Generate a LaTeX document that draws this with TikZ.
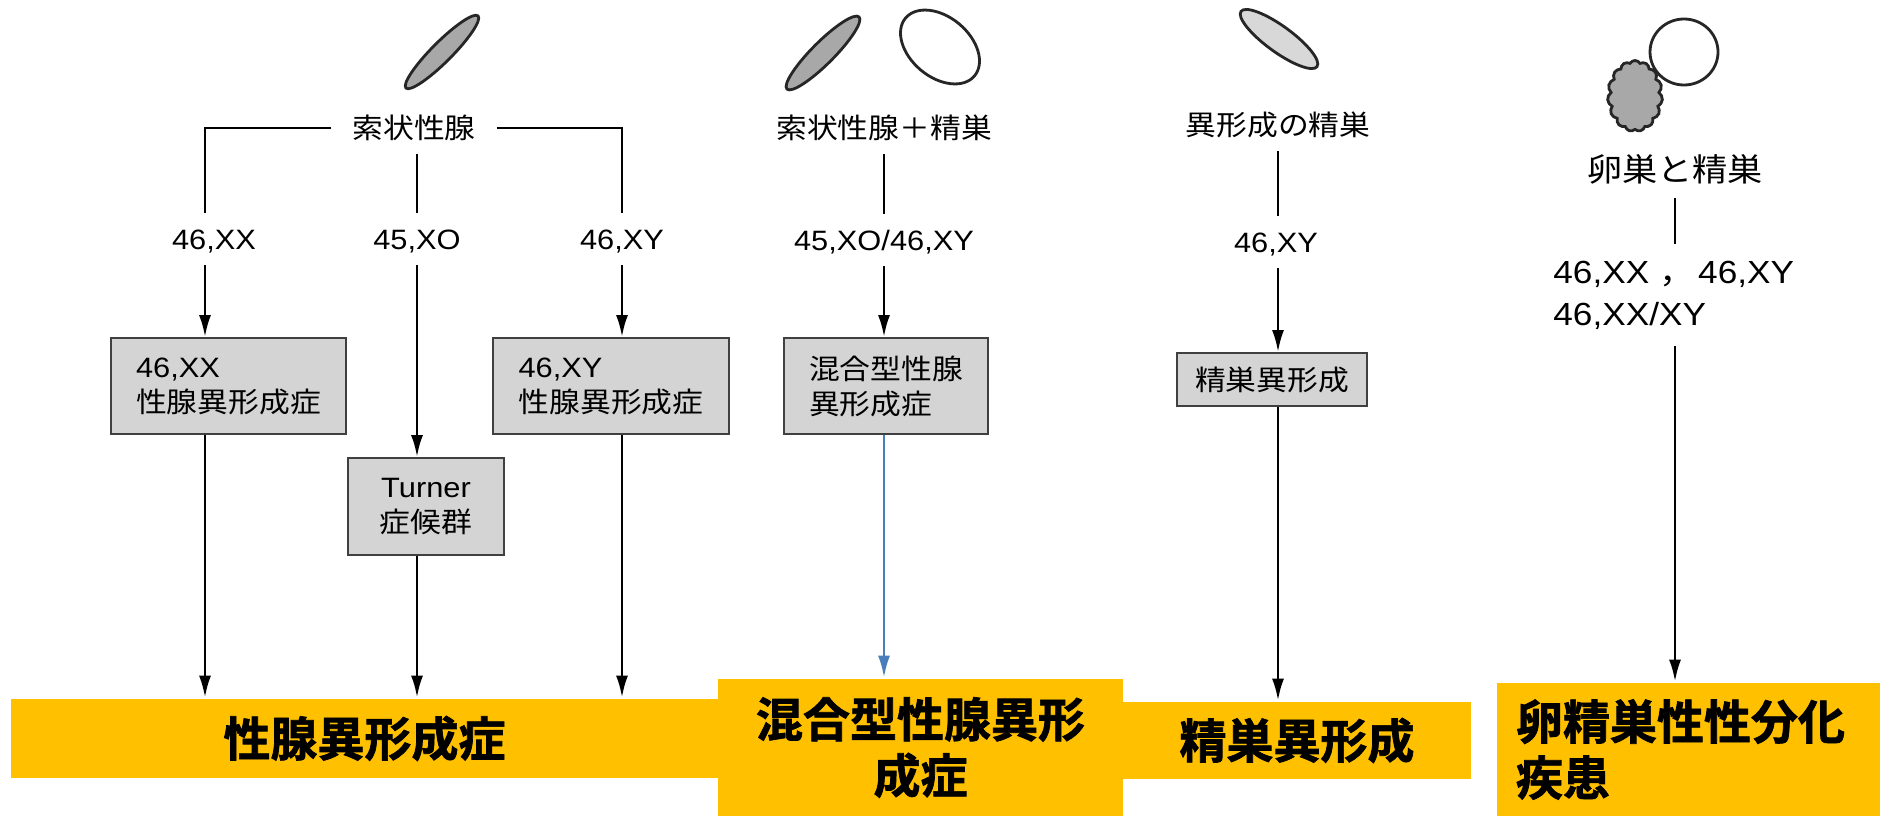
\documentclass[tikz,border=0pt]{standalone}
\usepackage{fontspec}
\setmainfont{Liberation Sans}[FakeStretch=1.1]
\newfontfamily\jp{Noto Sans CJK JP}[FakeStretch=1.1]
\newfontfamily\jpbold{Noto Sans CJK JP Bold}[FakeBold=1.5]
\usetikzlibrary{arrows.meta,shapes.symbols}

\definecolor{bargold}{HTML}{FFC000}
\definecolor{boxgray}{HTML}{D4D4D4}
\definecolor{gonadgray}{HTML}{A8A8A8}
\definecolor{testisgray}{HTML}{D8D8D8}
\definecolor{linkblue}{HTML}{4A7EBB}

\tikzset{
  lab/.style={font=\fontsize{28}{35}\selectfont, inner xsep=20pt, inner ysep=15pt, text height=20pt, text depth=0pt},
  labL/.style={font=\fontsize{32}{42}\selectfont, inner xsep=0pt, inner ysep=15pt},
  gbox/.style={draw=black!75, line width=1.8pt, fill=boxgray, font=\fontsize{28}{35}\selectfont, inner sep=0pt},
  bar/.style={fill=bargold, font=\jpbold\fontsize{47}{56}\selectfont, inner sep=0pt},
  gonad/.style={draw=black!85, line width=2.8pt}
}

\begin{document}
\begin{tikzpicture}[x=1pt, y=-1pt, >={Latex[length=22pt,width=12pt]}, line width=2.7pt]
  \useasboundingbox (0,0) rectangle (1881,816);

  \draw[gonad, fill=gonadgray, rotate around={45:(442,52)}] (442,52) ellipse [x radius=51, y radius=10];
  \draw[gonad, fill=gonadgray, rotate around={45:(823,53)}] (823,53) ellipse [x radius=51, y radius=11];
  \draw[gonad, rotate around={-40:(940,47)}] (940,47) ellipse [x radius=45, y radius=30];
  \draw[gonad, fill=testisgray, rotate around={-36:(1279,39)}] (1279,39) ellipse [x radius=47, y radius=13];
  \draw[gonad] (1684,52) ellipse [x radius=34, y radius=33];
  \node[gonad, cloud, fill=gonadgray, cloud puffs=15, cloud puff arc=120, cloud ignores aspect, minimum width=55, minimum height=71, inner sep=0pt] (O) at (1635,96) {};

  \node[bar, minimum width=707, minimum height=79] (P) at (364.5,738.5) {性腺異形成症};
  \node[bar, minimum width=405, minimum height=137, align=center] (Q) at (920.5,747.5) {混合型性腺異形\\成症};
  \node[bar, minimum width=348, minimum height=77] (R) at (1297,740.5) {精巣異形成};
  \node[bar, minimum width=383, minimum height=133, align=left, text width=345] (S) at (1688.5,749.5) {卵精巣性性分化\\疾患};

  \node[lab] (A) at (414,128) {\jp 索状性腺};
  \node[lab] (B) at (214,239) {46,XX};
  \node[lab] (C) at (417,239) {45,XO};
  \node[lab] (D) at (622,239) {46,XY};
  \node[gbox, minimum width=235, minimum height=96, align=left] (E) at (228.5,386) {46,XX\\\jp 性腺異形成症};
  \node[gbox, minimum width=236, minimum height=96, align=left] (F) at (611,386) {46,XY\\\jp 性腺異形成症};
  \node[gbox, minimum width=156, minimum height=97, align=center] (T) at (426,506.5) {Turner\\\jp 症候群};
  \draw (A.west) -| ([xshift=-9pt]B.north);
  \draw (A.east) -| (D.north);
  \draw (C.north |- A.south) -- (C.north);
  \draw[->] ([xshift=-9pt]B.south) -- ([xshift=-9pt]B.south |- E.north);
  \draw[->] (C.south) -- (C.south |- T.north);
  \draw[->] (D.south) -- (D.south |- F.north);
  \draw[->] ([xshift=-9pt]B.south |- E.south) -- ([xshift=-9pt]B.south |- P.north);
  \draw[->] (C.south |- T.south) -- (C.south |- P.north);
  \draw[->] (D.south |- F.south) -- (D.south |- P.north);

  \node[lab] (G) at (884,128) {\jp 索状性腺＋精巣};
  \node[lab] (H) at (884,240) {45,XO/46,XY};
  \node[gbox, minimum width=204, minimum height=96, align=left] (I) at (886,386) {\jp 混合型性腺\\\jp 異形成症};
  \draw (G) -- (H);
  \draw[->] (H.south) -- (H.south |- I.north);
  \draw[->, linkblue] (H.south |- I.south) -- (H.south |- Q.north);

  \node[lab] (J) at (1278,125) {\jp 異形成の精巣};
  \node[lab] (K) at (1276,242) {46,XY};
  \node[gbox, minimum width=190, minimum height=53] (L) at (1272,379.5) {\jp 精巣異形成};
  \draw (J.south) -- (J.south |- K.north);
  \draw[->] (J.south |- K.south) -- (J.south |- L.north);
  \draw[->] (J.south |- L.south) -- (J.south |- R.north);

  \node[labL, text height=23pt, text depth=0pt] (M) at (1675,170) {\jp 卵巣と精巣};
  \node[labL, anchor=west, align=left] (N) at (1552,295) {46,XX {\jp ，}\kern4pt{}46,XY\\46,XX/XY};
  \draw (M.south) -- (M.south |- N.north);
  \draw[->] (M.south |- N.south) -- (M.south |- S.north);
\end{tikzpicture}
\end{document}
